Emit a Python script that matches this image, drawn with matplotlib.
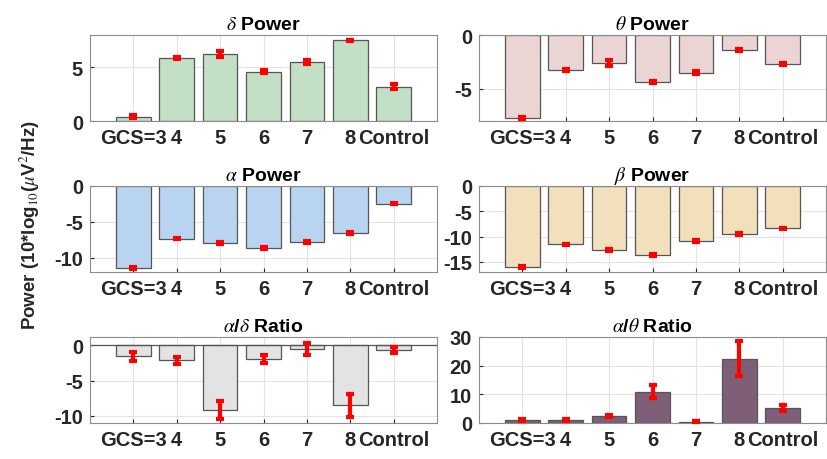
import matplotlib
matplotlib.use("Agg")
import matplotlib.pyplot as plt
import numpy as np

plt.rcParams['font.family'] = ['Liberation Sans', 'DejaVu Sans']
plt.rcParams['mathtext.fontset'] = 'stix'
plt.rcParams['axes.unicode_minus'] = False

categories = ["GCS=3", "4", "5", "6", "7", "8", "Control"]

delta_power = [0.4, 5.85, 6.25, 4.6, 5.45, 7.5, 3.2]
delta_err = [0.12, 0.12, 0.3, 0.1, 0.18, 0.08, 0.2]

theta_power = [-7.75, -3.27, -2.6, -4.35, -3.5, -1.4, -2.7]
theta_err = [0.08, 0.08, 0.3, 0.08, 0.15, 0.08, 0.08]

alpha_power = [-11.4, -7.35, -8.0, -8.64, -7.85, -6.54, -2.48]
alpha_err = [0.12, 0.1, 0.12, 0.1, 0.12, 0.12, 0.1]

beta_power = [-16.0, -11.55, -12.7, -13.6, -10.8, -9.5, -8.4]
beta_err = [0.18, 0.18, 0.18, 0.18, 0.18, 0.18, 0.15]

ad_ratio = [-1.55, -2.1, -9.15, -1.97, -0.5, -8.5, -0.65]
ad_err = [0.6, 0.5, 1.25, 0.55, 0.8, 1.67, 0.4]

at_ratio = [1.0, 1.05, 2.35, 10.9, 0.5, 22.4, 5.3]
at_err = [0.3, 0.3, 0.35, 2.2, 0.3, 6.1, 1.1]

panels = [
    (r"$\delta$ Power", delta_power, delta_err, "#c3dfc6", (0, 8), [0, 5]),
    (r"$\theta$ Power", theta_power, theta_err, "#ebd4d4", (-8, 0), [-5, 0]),
    (r"$\alpha$ Power", alpha_power, alpha_err, "#b9d4f1", (-12, 0), [-10, -5, 0]),
    (r"$\beta$ Power", beta_power, beta_err, "#f2dfbb", (-17, 0), [-15, -10, -5, 0]),
    (r"$\alpha$/$\delta$ Ratio", ad_ratio, ad_err, "#e3e3e3", (-11, 1.2), [-10, -5, 0]),
    (r"$\alpha$/$\theta$ Ratio", at_ratio, at_err, "#7f5f78", (0, 30), [0, 10, 20, 30]),
]

W, H = 827, 460
fig = plt.figure(figsize=(W / 100, H / 100), dpi=100)

col_x = [90, 479]
col_w = 347
row_y = [(36, 122), (187, 273), (338, 424)]

x = np.arange(1, len(categories) + 1)

for i, (title, vals, errs, color, ylim, yticks) in enumerate(panels):
    r, c = divmod(i, 2)
    top, bot = row_y[r]
    ax = fig.add_axes([col_x[c] / W, 1 - bot / H, col_w / W, (bot - top) / H])
    ax.set_axisbelow(True)
    ax.grid(True, color="#e3e3e3", linewidth=0.8)
    ax.bar(x, vals, width=0.8, color=color, edgecolor="#555555", linewidth=0.9, zorder=2)
    ax.errorbar(x, vals, yerr=errs, fmt='none', ecolor='red', elinewidth=3,
                capsize=3, capthick=3, zorder=3)
    if i == 4:
        ax.axhline(0, color="#555555", linewidth=0.9, zorder=2)
    ax.set_xlim(0, 8)
    ax.set_ylim(*ylim)
    ax.set_xticks(x)
    ax.set_xticklabels(categories)
    ax.set_yticks(yticks)
    ax.tick_params(direction='in', length=3, colors="#262626", labelsize=14.5,
                   pad=5)
    for lab in ax.get_xticklabels() + ax.get_yticklabels():
        lab.set_fontweight('bold')
    for s in ax.spines.values():
        s.set_color("#8c8c8c")
        s.set_linewidth(0.8)
    ax.set_title(title, fontsize=14, fontweight='bold', pad=4)

fig.text(30 / W, 1 - 225 / H, r"Power (10*log$_{10}$($\mu$V$^2$/Hz)", rotation=90,
         ha='center', va='center', fontsize=13.5, fontweight='bold', color="#262626")

fig.savefig("out.png", dpi=100)
